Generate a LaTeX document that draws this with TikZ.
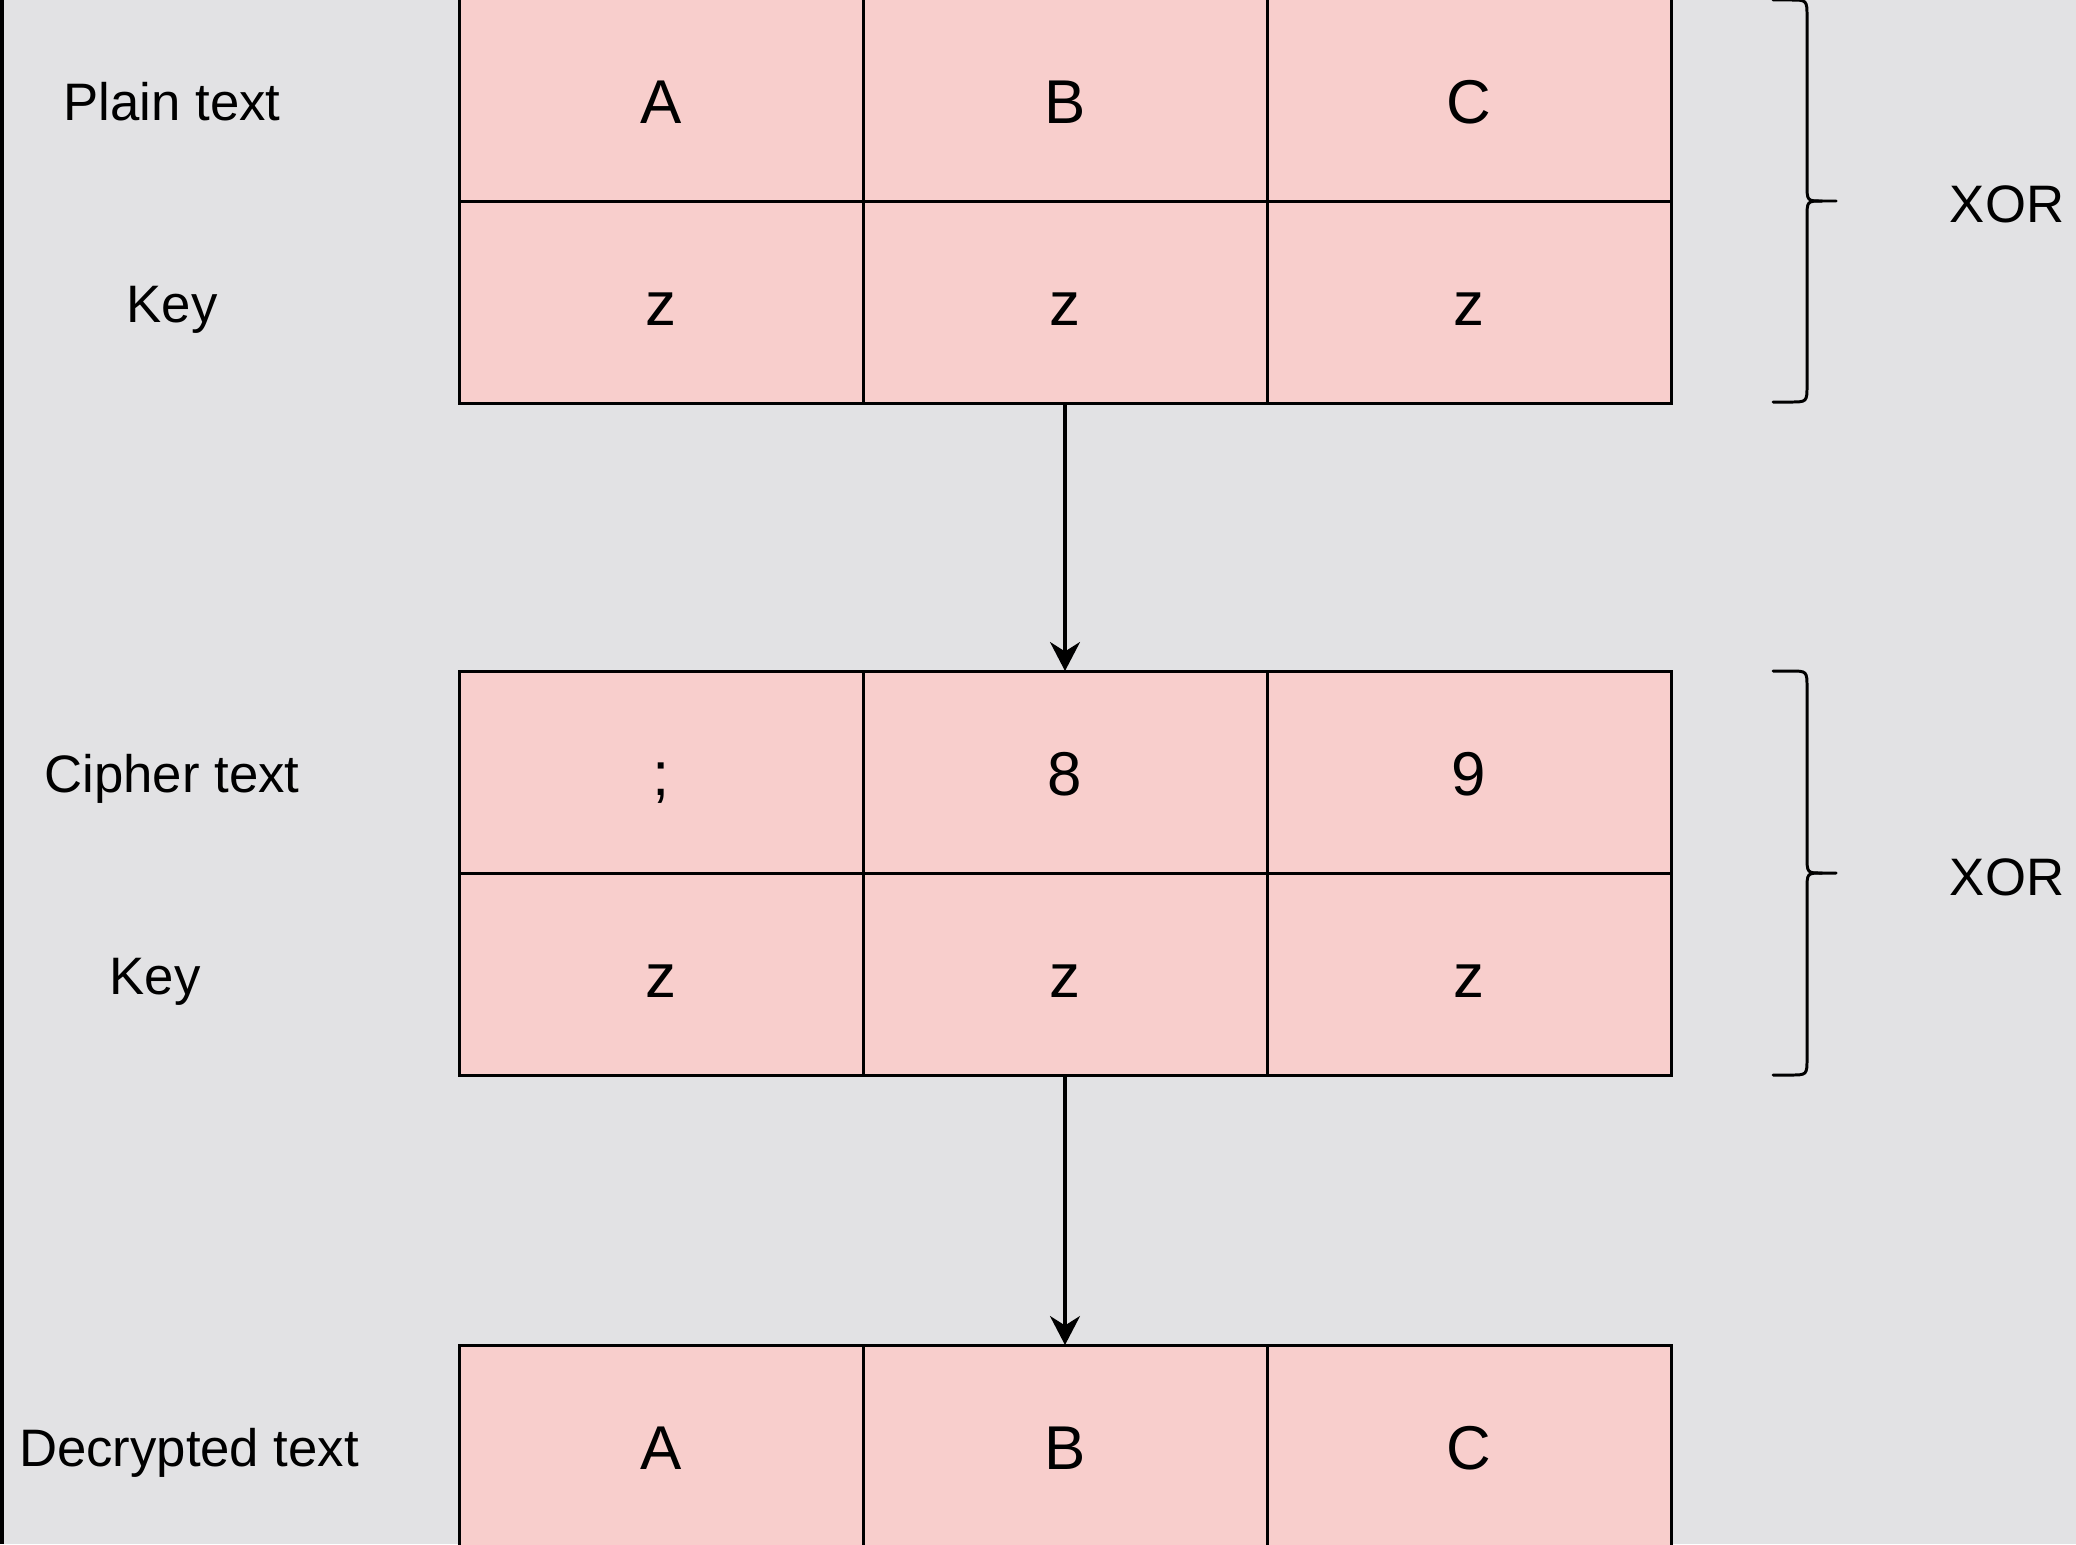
\documentclass[tikz,border=0pt]{standalone}
\usepackage{fontspec}
\setmainfont{Liberation Sans}
\usepackage{tikz}
\usetikzlibrary{arrows.meta}

\definecolor{bggray}{RGB}{226,226,228}
\definecolor{cellpink}{HTML}{F8CECC}

\tikzset{
	cell/.style={draw=black,fill=cellpink,line width=0.85pt,minimum width=4.04cm,minimum height=2.02cm,inner sep=0pt,outer sep=0pt,text height=0.46cm,text depth=0cm,font=\fontsize{17.6}{21}\selectfont},
	rowlabel/.style={inner sep=0pt,text height=0.38cm,text depth=0.02cm,font=\fontsize{15}{18}\selectfont},
	flow/.style={draw=black,line width=0.9pt,-{Stealth[length=0.29cm,width=0.3cm]}},
	bracket/.style={draw=black,line width=0.85pt,line cap=round}
}

\begin{document}
\begin{tikzpicture}
		\clip (0,0) rectangle (20.76,-15.44);
		\fill[bggray] (0,0) rectangle (20.76,-15.44);
		\fill[black] (0,0) rectangle (0.04,-15.44);

		% first block
		\node[cell] (plain1) at (6.61,-1.00) {A};
		\node[cell] (plain2) at (10.65,-1.00) {B};
		\node[cell] (plain3) at (14.69,-1.00) {C};
		\node[cell] (key1) at (6.61,-3.02) {z};
		\node[cell] (key2) at (10.65,-3.02) {z};
		\node[cell] (key3) at (14.69,-3.02) {z};

		% second block
		\node[cell] (cipher1) at (6.61,-7.72) {;};
		\node[cell] (cipher2) at (10.65,-7.72) {8};
		\node[cell] (cipher3) at (14.69,-7.72) {9};
		\node[cell] (keyb1) at (6.61,-9.74) {z};
		\node[cell] (keyb2) at (10.65,-9.74) {z};
		\node[cell] (keyb3) at (14.69,-9.74) {z};

		% third block
		\node[cell] (dec1) at (6.61,-14.46) {A};
		\node[cell] (dec2) at (10.65,-14.46) {B};
		\node[cell] (dec3) at (14.69,-14.46) {C};

		\node[rowlabel] (lplain) at (1.72,-1.02) {Plain text};
		\node[rowlabel] (lkey) at (1.72,-3.04) {Key};
		\node[rowlabel] (lcipher) at (1.72,-7.74) {Cipher text};
		\node[rowlabel] (lkeyb) at (1.55,-9.76) {Key};
		\node[rowlabel] (ldec) at (1.89,-14.48) {Decrypted text};

		\draw[flow] (key2.south) -- (cipher2.north);
		\draw[flow] (keyb2.south) -- (dec2.north);

		% braces
		\draw[bracket] (17.73,0) -- (17.90,0) .. controls (18.07,0) .. (18.07,-0.17) -- (18.07,-1.84) .. controls (18.07,-2.01) .. (18.22,-2.01) -- (18.36,-2.01);
		\draw[bracket] (18.22,-2.01) .. controls (18.07,-2.01) .. (18.07,-2.18) -- (18.07,-3.85) .. controls (18.07,-4.02) .. (17.90,-4.02) -- (17.73,-4.02);
		\node[rowlabel] (xora) at (20.07,-2.04) {XOR};

		\draw[bracket] (17.73,-6.71) -- (17.90,-6.71) .. controls (18.07,-6.71) .. (18.07,-6.88) -- (18.07,-8.56) .. controls (18.07,-8.73) .. (18.22,-8.73) -- (18.36,-8.73);
		\draw[bracket] (18.22,-8.73) .. controls (18.07,-8.73) .. (18.07,-8.90) -- (18.07,-10.58) .. controls (18.07,-10.75) .. (17.90,-10.75) -- (17.73,-10.75);
		\node[rowlabel] (xorb) at (20.07,-8.77) {XOR};
	\end{tikzpicture}
\end{document}
